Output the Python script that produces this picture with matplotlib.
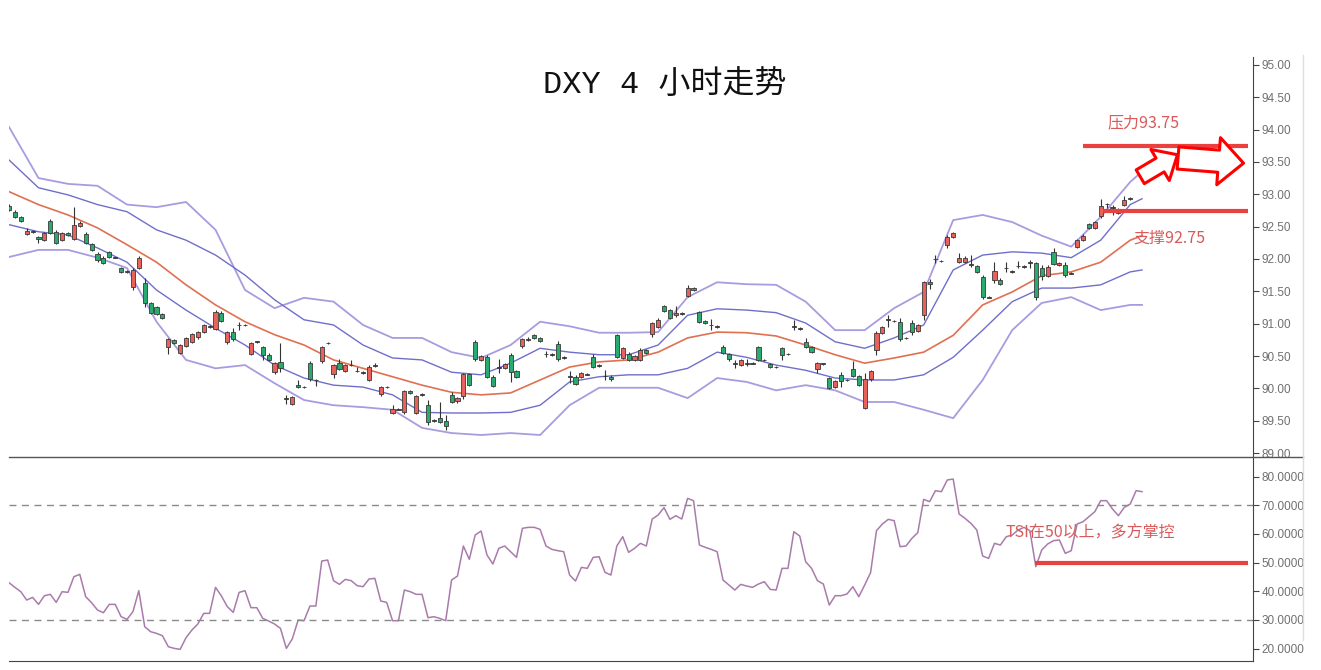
import numpy as np
import matplotlib.pyplot as plt

# candles, one per 4-hour bar (red = up, green = down)
opens = [92.82, 92.73, 92.65, 92.39, 92.42, 92.34, 92.29, 92.59, 92.42, 92.29,
         92.40, 92.31, 92.51, 92.39, 92.23, 92.08, 92.02, 92.11, 92.02, 91.86,
         91.82, 91.57, 91.86, 91.63, 91.32, 91.26, 91.15, 90.64, 90.75, 90.55,
         90.66, 90.72, 90.79, 90.87, 90.96, 90.92, 91.17, 90.72, 90.87, 90.98,
         90.98, 90.53, 90.72, 90.64, 90.52, 90.25, 90.41, 89.84, 89.76, 90.05,
         90.02, 90.39, 90.13, 90.42, 90.70, 90.22, 90.39, 90.27, 90.36, 90.27,
         90.25, 90.13, 90.35, 89.91, 90.02, 89.62, 89.68, 89.63, 89.96, 89.62,
         89.90, 89.74, 89.50, 89.54, 89.50, 89.90, 89.80, 89.88, 90.22, 90.72,
         90.44, 90.49, 90.18, 90.32, 90.32, 90.52, 90.27, 90.66, 90.76, 90.82,
         90.78, 90.53, 90.52, 90.69, 90.48, 90.18, 90.18, 90.18, 90.22, 90.49,
         90.35, 90.19, 90.18, 90.82, 90.47, 90.53, 90.44, 90.44, 90.59, 90.84,
         90.95, 91.27, 91.21, 91.13, 91.16, 91.43, 91.55, 91.18, 91.04, 90.98,
         90.96, 90.64, 90.53, 90.38, 90.36, 90.39, 90.39, 90.64, 90.44, 90.38,
         90.33, 90.62, 90.53, 90.96, 90.93, 90.72, 90.64, 90.30, 90.38, 90.16,
         90.02, 90.21, 90.13, 90.30, 90.19, 89.70, 90.14, 90.59, 90.86, 91.06,
         91.04, 91.03, 90.78, 91.01, 90.89, 91.13, 91.64, 92.00, 91.97, 92.22,
         92.34, 91.95, 91.95, 91.92, 91.89, 91.72, 91.41, 91.68, 91.68, 91.86,
         91.81, 91.89, 91.88, 91.94, 91.94, 91.86, 91.74, 92.11, 91.91, 91.91,
         91.78, 92.19, 92.29, 92.54, 92.48, 92.67, 92.85, 92.79, 92.71, 92.84,
         92.93]
highs = [92.85, 92.76, 92.67, 92.48, 92.44, 92.36, 92.42, 92.61, 92.44, 92.42,
         92.42, 92.80, 92.58, 92.41, 92.25, 92.10, 92.04, 92.13, 92.03, 91.88,
         91.83, 91.86, 92.04, 91.71, 91.34, 91.28, 91.17, 90.78, 90.77, 90.69,
         90.80, 90.86, 90.89, 91.00, 90.98, 91.21, 91.19, 90.89, 90.93, 91.03,
         91.00, 90.72, 90.74, 90.66, 90.54, 90.41, 90.70, 89.90, 89.89, 90.13,
         90.04, 90.42, 90.15, 90.66, 90.72, 90.38, 90.45, 90.38, 90.44, 90.33,
         90.27, 90.36, 90.40, 90.04, 90.04, 89.74, 89.70, 89.98, 89.98, 89.90,
         89.93, 89.82, 89.52, 89.79, 89.59, 89.94, 89.87, 90.24, 90.24, 90.75,
         90.52, 90.51, 90.20, 90.45, 90.40, 90.55, 90.29, 90.78, 90.79, 90.84,
         90.80, 90.58, 90.54, 90.73, 90.50, 90.27, 90.20, 90.26, 90.24, 90.53,
         90.37, 90.28, 90.20, 90.84, 90.64, 90.56, 90.52, 90.62, 90.61, 91.03,
         91.08, 91.29, 91.23, 91.27, 91.18, 91.60, 91.57, 91.20, 91.06, 91.07,
         90.98, 90.67, 90.55, 90.44, 90.46, 90.45, 90.41, 90.66, 90.46, 90.40,
         90.35, 90.64, 90.55, 91.06, 90.95, 90.78, 90.66, 90.41, 90.40, 90.18,
         90.13, 90.25, 90.15, 90.42, 90.21, 90.24, 90.29, 90.88, 90.97, 91.13,
         91.06, 91.09, 90.80, 91.06, 91.00, 91.66, 91.69, 92.06, 91.99, 92.37,
         92.42, 92.09, 92.04, 92.06, 91.91, 91.75, 91.43, 91.95, 91.70, 91.95,
         91.83, 91.97, 91.90, 91.98, 91.96, 91.91, 91.90, 92.17, 91.96, 91.95,
         91.80, 92.31, 92.38, 92.56, 92.59, 92.93, 92.87, 92.84, 92.79, 92.97,
         92.95]
lows = [92.74, 92.63, 92.57, 92.37, 92.40, 92.25, 92.27, 92.38, 92.23, 92.27,
        92.35, 92.29, 92.49, 92.23, 92.12, 91.96, 91.92, 92.01, 92.01, 91.78,
        91.79, 91.52, 91.84, 91.26, 91.15, 91.13, 91.07, 90.53, 90.68, 90.53,
        90.64, 90.70, 90.77, 90.85, 90.94, 90.90, 91.02, 90.69, 90.74, 90.90,
        90.96, 90.51, 90.70, 90.44, 90.42, 90.23, 90.25, 89.76, 89.74, 90.00,
        90.00, 90.12, 90.04, 90.40, 90.68, 90.16, 90.28, 90.25, 90.34, 90.25,
        90.23, 90.11, 90.33, 89.89, 90.00, 89.60, 89.66, 89.61, 89.91, 89.60,
        89.88, 89.43, 89.48, 89.46, 89.36, 89.77, 89.78, 89.84, 90.03, 90.42,
        90.42, 90.16, 90.02, 90.24, 90.30, 90.10, 90.16, 90.62, 90.74, 90.76,
        90.71, 90.48, 90.50, 90.42, 90.46, 90.08, 90.05, 90.16, 90.20, 90.31,
        90.33, 90.13, 90.12, 90.47, 90.45, 90.42, 90.42, 90.42, 90.53, 90.79,
        90.93, 91.18, 91.07, 91.11, 91.14, 91.41, 91.50, 91.01, 90.99, 90.90,
        90.94, 90.53, 90.43, 90.32, 90.34, 90.35, 90.37, 90.42, 90.42, 90.31,
        90.31, 90.44, 90.51, 90.90, 90.91, 90.62, 90.54, 90.24, 90.36, 89.99,
        90.00, 90.02, 90.11, 90.17, 90.03, 89.68, 90.12, 90.52, 90.84, 90.95,
        91.02, 90.74, 90.76, 90.82, 90.87, 91.06, 91.54, 91.94, 91.95, 92.17,
        92.32, 91.93, 91.93, 91.88, 91.78, 91.38, 91.39, 91.63, 91.59, 91.80,
        91.79, 91.86, 91.86, 91.86, 91.37, 91.68, 91.72, 91.90, 91.89, 91.72,
        91.76, 92.17, 92.27, 92.46, 92.46, 92.63, 92.78, 92.68, 92.69, 92.82,
        92.91]
closes = [92.76, 92.65, 92.59, 92.43, 92.42, 92.31, 92.40, 92.40, 92.25, 92.40,
          92.37, 92.53, 92.56, 92.25, 92.14, 91.98, 91.94, 92.03, 92.02, 91.80,
          91.80, 91.83, 92.02, 91.32, 91.17, 91.15, 91.09, 90.76, 90.70, 90.67,
          90.78, 90.84, 90.87, 90.98, 90.96, 91.18, 91.04, 90.87, 90.76, 90.98,
          90.98, 90.70, 90.72, 90.52, 90.44, 90.39, 90.32, 89.84, 89.87, 90.02,
          90.02, 90.14, 90.13, 90.64, 90.70, 90.36, 90.30, 90.36, 90.36, 90.27,
          90.25, 90.33, 90.35, 90.02, 90.02, 89.68, 89.68, 89.96, 89.93, 89.88,
          89.90, 89.48, 89.50, 89.48, 89.42, 89.79, 89.85, 90.22, 90.05, 90.45,
          90.50, 90.18, 90.04, 90.32, 90.38, 90.25, 90.18, 90.76, 90.76, 90.78,
          90.73, 90.53, 90.52, 90.45, 90.48, 90.18, 90.07, 90.24, 90.22, 90.33,
          90.35, 90.19, 90.14, 90.49, 90.62, 90.44, 90.50, 90.59, 90.55, 91.01,
          91.06, 91.20, 91.09, 91.16, 91.16, 91.55, 91.52, 91.03, 91.01, 90.98,
          90.96, 90.55, 90.45, 90.38, 90.44, 90.39, 90.39, 90.44, 90.44, 90.33,
          90.33, 90.52, 90.53, 90.96, 90.93, 90.64, 90.56, 90.39, 90.38, 90.01,
          90.11, 90.11, 90.13, 90.19, 90.05, 90.14, 90.27, 90.86, 90.95, 91.06,
          91.04, 90.76, 90.78, 90.87, 90.98, 91.64, 91.61, 92.00, 91.97, 92.34,
          92.40, 92.02, 92.02, 91.92, 91.80, 91.41, 91.41, 91.81, 91.61, 91.86,
          91.81, 91.89, 91.88, 91.94, 91.41, 91.74, 91.88, 91.92, 91.94, 91.75,
          91.78, 92.29, 92.36, 92.48, 92.57, 92.82, 92.85, 92.79, 92.77, 92.91,
          92.93]

# band lines, read every 5 bars
band_idx = list(range(0, 191, 5)) + [192]
outer_up = [94.04, 93.25, 93.16, 93.13, 92.84, 92.80, 92.88, 92.45, 91.52, 91.24,
            91.40, 91.34, 90.98, 90.78, 90.78, 90.56, 90.47, 90.67, 91.03, 90.96,
            90.86, 90.86, 90.87, 91.41, 91.64, 91.61, 91.60, 91.34, 90.90, 90.90,
            91.24, 91.49, 92.60, 92.68, 92.57, 92.36, 92.19, 92.65, 93.19, 93.35]
inner_up = [93.53, 93.10, 92.99, 92.84, 92.73, 92.45, 92.29, 92.06, 91.75, 91.37,
            91.06, 90.98, 90.67, 90.47, 90.44, 90.25, 90.21, 90.39, 90.62, 90.56,
            90.52, 90.52, 90.67, 91.13, 91.23, 91.21, 91.17, 91.01, 90.72, 90.62,
            90.78, 90.98, 91.83, 92.06, 92.11, 92.09, 92.02, 92.29, 92.84, 92.93]
middle = [93.04, 92.84, 92.68, 92.48, 92.22, 91.95, 91.60, 91.29, 91.03, 90.83,
          90.67, 90.44, 90.31, 90.18, 90.05, 89.94, 89.90, 89.93, 90.13, 90.33,
          90.41, 90.44, 90.56, 90.78, 90.87, 90.86, 90.81, 90.67, 90.52, 90.39,
          90.47, 90.56, 90.82, 91.29, 91.49, 91.74, 91.80, 91.95, 92.29, 92.36]
inner_dn = [92.53, 92.42, 92.37, 92.17, 91.95, 91.52, 91.21, 90.93, 90.67, 90.36,
            90.16, 90.05, 90.02, 89.90, 89.63, 89.62, 89.62, 89.63, 89.74, 90.10,
            90.18, 90.21, 90.21, 90.31, 90.56, 90.48, 90.36, 90.28, 90.16, 90.13,
            90.13, 90.21, 90.48, 90.90, 91.34, 91.55, 91.55, 91.60, 91.80, 91.83]
outer_dn = [92.03, 92.14, 92.14, 92.02, 91.86, 91.03, 90.44, 90.31, 90.36, 90.08,
            89.82, 89.74, 89.71, 89.67, 89.39, 89.31, 89.28, 89.31, 89.28, 89.74,
            90.01, 90.01, 90.01, 89.85, 90.16, 90.10, 89.97, 90.05, 89.97, 89.79,
            89.79, 89.67, 89.54, 90.13, 90.90, 91.32, 91.41, 91.21, 91.29, 91.29]

tsi = [42.97, 41.34, 39.83, 36.92, 37.85, 35.41, 38.43, 38.90, 36.11, 39.83,
       39.59, 45.06, 45.87, 38.08, 35.99, 33.43, 32.50, 35.41, 35.41, 31.11,
       30.18, 32.85, 40.18, 27.62, 25.88, 25.29, 24.48, 20.64, 20.06, 19.71,
       23.78, 26.46, 28.55, 32.27, 32.27, 41.34, 38.32, 34.60, 32.62, 39.59,
       40.18, 34.25, 34.25, 30.53, 29.60, 28.55, 27.04, 20.06, 23.32, 29.94,
       29.71, 34.83, 34.83, 50.52, 50.87, 43.66, 42.39, 44.13, 43.66, 41.92,
       41.57, 44.24, 44.48, 36.57, 36.11, 29.71, 29.71, 40.41, 39.83, 38.90,
       38.90, 30.76, 31.11, 30.53, 29.71, 43.90, 45.29, 55.76, 51.11, 59.59,
       60.99, 52.62, 49.48, 54.94, 55.76, 53.78, 51.80, 61.92, 62.27, 62.27,
       61.57, 55.76, 54.59, 54.13, 53.78, 45.64, 43.55, 48.31, 47.97, 51.80,
       52.03, 46.57, 45.64, 55.76, 59.01, 53.55, 54.94, 56.69, 55.76, 65.17,
       66.57, 69.13, 65.06, 66.34, 65.17, 72.38, 71.57, 56.10, 55.29, 54.59,
       53.78, 43.90, 42.15, 40.41, 42.39, 41.80, 41.34, 42.50, 43.31, 40.64,
       40.41, 47.97, 47.97, 60.75, 59.24, 50.29, 47.97, 43.66, 42.50, 35.18,
       38.43, 38.43, 39.01, 41.57, 38.08, 42.15, 46.45, 61.10, 63.43, 65.06,
       64.59, 55.52, 55.76, 58.43, 60.41, 72.03, 71.22, 75.06, 74.71, 78.78,
       79.12, 66.92, 65.41, 63.66, 61.34, 52.27, 51.45, 56.69, 56.10, 59.01,
       59.59, 61.34, 62.27, 61.10, 48.55, 54.36, 56.45, 57.62, 57.85, 53.20,
       54.13, 63.43, 64.24, 65.99, 67.73, 71.57, 71.57, 68.66, 66.34, 69.24,
       70.41, 75.06, 74.71]

price_ticks = np.arange(89.0, 95.01, 0.5)
tsi_ticks = np.arange(20, 81, 10)

RED = "#E8625A"
GREEN = "#29AB6F"
DARK = "#333333"
MARK = "#E8413F"
NOTE = "#D95A5A"
CJK = ["Noto Sans CJK SC", "DejaVu Sans"]

fig = plt.figure(figsize=(13.21, 6.70), dpi=100)
ax1 = fig.add_axes([0.0068, 0.3179, 0.9417, 0.5970])
ax2 = fig.add_axes([0.0068, 0.0134, 0.9417, 0.3045], sharex=ax1)

x = np.arange(len(opens))
o = np.array(opens)
c = np.array(closes)
h = np.array(highs)
l = np.array(lows)
colors = np.where(c > o, RED, np.where(c < o, GREEN, DARK))
body_h = np.maximum(np.abs(c - o), 0.012)
body_lo = np.where(c == o, o - 0.006, np.minimum(o, c))

ax1.plot(band_idx, outer_up, color="#A99BE0", lw=1.3, zorder=1)
ax1.plot(band_idx, outer_dn, color="#A99BE0", lw=1.3, zorder=1)
ax1.plot(band_idx, inner_up, color="#6F6FCB", lw=1.0, zorder=1)
ax1.plot(band_idx, inner_dn, color="#6F6FCB", lw=1.0, zorder=1)
ax1.plot(band_idx, middle, color="#E07050", lw=1.2, zorder=1)

ax1.vlines(x, l, h, color=DARK, lw=0.8, zorder=3)
ax1.bar(x, body_h, bottom=body_lo, width=0.7, color=colors,
        edgecolor="#3a3a3a", linewidth=0.6, zorder=4)

# support / resistance marks
ax1.hlines(93.75, 182.0, 210.0, color=MARK, lw=3, zorder=5)
ax1.hlines(92.74, 185.4, 210.0, color=MARK, lw=3, zorder=5)
ax1.text(186.1, 94.10, "压力93.75", color=NOTE, fontsize=11.5,
         family=CJK, va="center", ha="left")
ax1.text(190.5, 92.32, "支撑92.75", color=NOTE, fontsize=11.5,
         family=CJK, va="center", ha="left")

ax1.annotate("", xy=(198.0, 93.61), xytext=(191.7, 93.27),
             arrowprops=dict(arrowstyle="simple,head_length=1.45,head_width=2.6,tail_width=1.15",
                             fc="white", ec="#FF0000", lw=2.2, mutation_scale=10,
                             shrinkA=0, shrinkB=0), zorder=6)
ax1.annotate("", xy=(209.2, 93.48), xytext=(198.1, 93.56),
             arrowprops=dict(arrowstyle="simple,head_length=1.8,head_width=3.4,tail_width=1.6",
                             fc="white", ec="#FF0000", lw=2.2, mutation_scale=10,
                             shrinkA=0, shrinkB=0), zorder=6)

ax2.plot(np.arange(len(tsi)), tsi, color="#A97BAA", lw=1.1)
ax2.axhline(70, color="#8a8a8a", lw=1, ls=(0, (5, 4)))
ax2.axhline(30, color="#8a8a8a", lw=1, ls=(0, (5, 4)))
ax2.hlines(49.8, 173.9, 210.0, color=MARK, lw=3, zorder=5)
ax2.text(168.8, 60.3, "TSI在50以上，多方掌控", color=NOTE, fontsize=11.5,
         family=CJK, va="center", ha="left")

ax1.set_xlim(0, 210.8)
ax1.set_ylim(88.94, 95.12)
ax2.set_ylim(15.65, 86.8)

for ax, ticks, fmt in ((ax1, price_ticks, "{:.2f}"), (ax2, tsi_ticks, "{:.4f}")):
    for side in ("left", "top", "bottom"):
        ax.spines[side].set_visible(False)
    ax.spines["right"].set_color("#444444")
    ax.yaxis.tick_right()
    ax.set_yticks(ticks)
    ax.set_yticklabels([fmt.format(t) for t in ticks])
    ax.tick_params(axis="y", length=4, width=0.8, color="#444444", labelcolor="#707070",
                   labelsize=8.5, pad=2)
    ax.tick_params(axis="x", bottom=False, labelbottom=False)
    for lab in ax.get_yticklabels():
        lab.set_family("Liberation Sans")
    ax.set_facecolor("none")

ax2.spines["bottom"].set_visible(True)
ax2.spines["bottom"].set_color("#444444")

# panel separator and faint frame edge
fig.add_artist(plt.Line2D([9 / 1321, 1303 / 1321], [1 - 457 / 670, 1 - 457 / 670],
                          color="#555555", lw=1))
fig.add_artist(plt.Line2D([1303 / 1321, 1303 / 1321], [1 - 55 / 670, 1 - 640 / 670],
                          color="#dddddd", lw=1))

fig.text(0.5034, 0.873, "DXY 4 小时走势", ha="center", va="center", fontsize=23,
         family=["Liberation Mono", "Noto Sans CJK SC"], color="#111111")

fig.savefig("out.png", dpi=100)
